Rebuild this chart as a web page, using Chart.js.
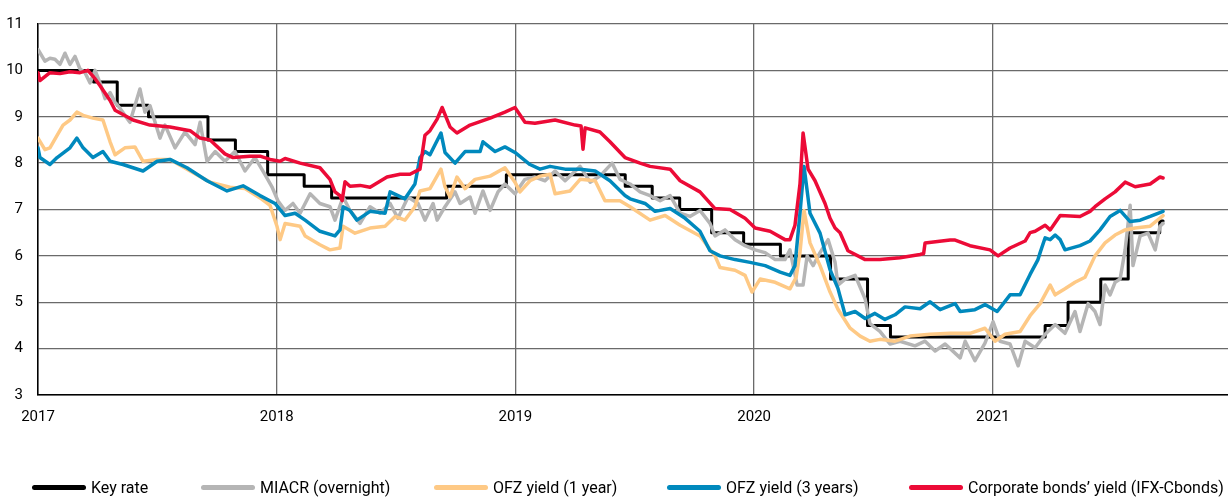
<!DOCTYPE html>
<html>
<head>
<meta charset="utf-8">
<script src="https://cdn.jsdelivr.net/npm/chart.js@4.4.1/dist/chart.umd.min.js"></script>
<style>
  html, body { margin: 0; padding: 0; background: #fff; }
  #wrap { position: relative; width: 1228px; height: 498px; }
  #legend { position: absolute; left: 0; top: 477px; width: 1228px; height: 20px; font: 16px Roboto, sans-serif; color: #000; }
  .item { position: absolute; top: 0; height: 20px; display: flex; align-items: center; white-space: nowrap; }
  .item .line { display: inline-block; width: 54px; height: 5px; border-radius: 3px; margin-right: 5px; }
</style>
</head>
<body>
<div id="wrap">
  <canvas id="ratesChart" width="1228" height="498"></canvas>
  <div id="legend"></div>
</div>
<script>
// osie
const xTicks = [2017, 2018, 2019, 2020, 2021];
const yTicks = [3, 4, 5, 6, 7, 8, 9, 10, 11];

// stopa kluczowa (daty jako ulamek roku)
const keyRateT = [2017.000, 2017.233, 2017.332, 2017.463, 2017.712, 2017.827, 2017.962, 2018.115, 2018.230,
    2018.712, 2018.962, 2019.460, 2019.573, 2019.688, 2019.822, 2019.956, 2020.110, 2020.320, 2020.475,
    2020.571, 2021.219, 2021.315, 2021.452, 2021.567, 2021.699, 2021.713];
const keyRateV = [10.00, 9.75, 9.25, 9.00, 8.50, 8.25, 7.75, 7.50, 7.25,
    7.50, 7.75, 7.50, 7.25, 7.00, 6.50, 6.25, 6.00, 5.50, 4.50,
    4.25, 4.50, 5.00, 5.50, 6.50, 6.75, 6.75];

// MIACR
const miacrT = [2017.000, 2017.029, 2017.050, 2017.071, 2017.092, 2017.113, 2017.134, 2017.155, 2017.176, 2017.197,
    2017.218, 2017.239, 2017.260, 2017.281, 2017.302, 2017.323, 2017.344, 2017.364, 2017.385, 2017.427,
    2017.448, 2017.469, 2017.511, 2017.532, 2017.574, 2017.616, 2017.658, 2017.679, 2017.708, 2017.742,
    2017.783, 2017.825, 2017.867, 2017.909, 2017.951, 2017.980, 2018.005, 2018.035, 2018.068, 2018.098,
    2018.140, 2018.181, 2018.223, 2018.244, 2018.278, 2018.307, 2018.349, 2018.391, 2018.433, 2018.475,
    2018.508, 2018.550, 2018.592, 2018.621, 2018.655, 2018.672, 2018.705, 2018.747, 2018.768, 2018.810,
    2018.831, 2018.864, 2018.894, 2018.927, 2018.956, 2018.998, 2019.040, 2019.082, 2019.124, 2019.166,
    2019.208, 2019.271, 2019.313, 2019.354, 2019.405, 2019.438, 2019.480, 2019.522, 2019.564, 2019.606,
    2019.648, 2019.690, 2019.731, 2019.773, 2019.815, 2019.836, 2019.878, 2019.920, 2019.962, 2020.004,
    2020.046, 2020.088, 2020.129, 2020.150, 2020.180, 2020.205, 2020.222, 2020.247, 2020.276, 2020.310,
    2020.339, 2020.351, 2020.381, 2020.423, 2020.465, 2020.485, 2020.527, 2020.569, 2020.611, 2020.674,
    2020.716, 2020.758, 2020.800, 2020.863, 2020.884, 2020.925, 2020.967, 2021.001, 2021.030, 2021.072,
    2021.106, 2021.135, 2021.177, 2021.219, 2021.261, 2021.302, 2021.344, 2021.365, 2021.399, 2021.428,
    2021.449, 2021.470, 2021.491, 2021.512, 2021.533, 2021.554, 2021.575, 2021.587, 2021.617, 2021.650,
    2021.680, 2021.700, 2021.713];
const miacrV = [10.45, 10.20, 10.26, 10.24, 10.13, 10.37, 10.13, 10.30, 10.03, 9.95,
    9.73, 10.00, 9.73, 9.39, 9.52, 9.31, 9.18, 9.03, 8.88, 9.60,
    9.10, 9.24, 8.54, 8.82, 8.33, 8.67, 8.40, 8.88, 8.04, 8.25,
    8.04, 8.25, 7.83, 8.12, 7.75, 7.49, 7.19, 6.98, 7.13, 6.92,
    7.34, 7.13, 7.06, 6.77, 7.27, 6.98, 6.70, 7.06, 6.92, 7.13,
    6.81, 7.27, 7.13, 6.77, 7.13, 6.77, 7.06, 7.38, 7.13, 7.27,
    6.92, 7.40, 6.98, 7.38, 7.55, 7.34, 7.65, 7.70, 7.62, 7.83,
    7.62, 7.93, 7.59, 7.72, 8.00, 7.65, 7.55, 7.38, 7.30, 7.19,
    7.30, 6.92, 6.85, 6.98, 6.70, 6.43, 6.56, 6.35, 6.22, 6.13,
    6.07, 5.92, 5.92, 6.13, 5.37, 5.37, 6.00, 5.79, 6.07, 6.35,
    5.86, 5.37, 5.50, 5.58, 5.07, 4.54, 4.37, 4.10, 4.16, 4.06,
    4.16, 3.95, 4.10, 3.80, 4.16, 3.74, 4.12, 4.58, 4.16, 4.10,
    3.63, 4.16, 4.02, 4.31, 4.52, 4.33, 4.80, 4.37, 4.97, 4.80,
    4.52, 5.37, 5.16, 5.43, 5.50, 6.13, 7.09, 5.79, 6.43, 6.49,
    6.13, 6.64, 6.70];

// OFZ 1 rok
const ofz1T = [2017.000, 2017.029, 2017.050, 2017.080, 2017.105, 2017.134, 2017.163, 2017.189, 2017.230, 2017.272,
    2017.302, 2017.323, 2017.364, 2017.406, 2017.440, 2017.499, 2017.553, 2017.637, 2017.721, 2017.804,
    2017.867, 2017.930, 2017.972, 2018.001, 2018.014, 2018.035, 2018.098, 2018.119, 2018.181, 2018.223,
    2018.265, 2018.278, 2018.328, 2018.391, 2018.454, 2018.496, 2018.537, 2018.579, 2018.600, 2018.642,
    2018.688, 2018.705, 2018.726, 2018.755, 2018.789, 2018.831, 2018.894, 2018.956, 2018.998, 2019.019,
    2019.061, 2019.103, 2019.145, 2019.166, 2019.229, 2019.271, 2019.334, 2019.375, 2019.438, 2019.480,
    2019.564, 2019.627, 2019.690, 2019.773, 2019.836, 2019.857, 2019.920, 2019.962, 2019.991, 2020.025,
    2020.088, 2020.150, 2020.176, 2020.192, 2020.209, 2020.234, 2020.276, 2020.318, 2020.351, 2020.402,
    2020.444, 2020.485, 2020.527, 2020.590, 2020.653, 2020.737, 2020.821, 2020.904, 2020.967, 2021.009,
    2021.051, 2021.114, 2021.156, 2021.198, 2021.240, 2021.261, 2021.302, 2021.344, 2021.386, 2021.428,
    2021.470, 2021.512, 2021.554, 2021.596, 2021.659, 2021.713];
const ofz1V = [8.54, 8.29, 8.33, 8.60, 8.82, 8.93, 9.10, 9.03, 8.97, 8.93,
    8.46, 8.18, 8.33, 8.35, 8.04, 8.08, 8.08, 7.83, 7.59, 7.48,
    7.45, 7.25, 7.09, 6.64, 6.35, 6.70, 6.64, 6.43, 6.24, 6.13,
    6.17, 6.64, 6.49, 6.60, 6.64, 6.85, 6.77, 7.06, 7.40, 7.45,
    7.87, 7.49, 7.27, 7.70, 7.45, 7.65, 7.72, 7.90, 7.59, 7.38,
    7.62, 7.72, 7.76, 7.34, 7.40, 7.65, 7.62, 7.19, 7.19, 7.06,
    6.77, 6.87, 6.66, 6.43, 6.00, 5.75, 5.69, 5.58, 5.22, 5.50,
    5.43, 5.29, 5.54, 6.07, 6.98, 6.28, 5.79, 5.22, 4.85, 4.44,
    4.27, 4.16, 4.20, 4.16, 4.27, 4.31, 4.33, 4.33, 4.44, 4.16,
    4.31, 4.37, 4.71, 4.97, 5.37, 5.16, 5.29, 5.43, 5.54, 6.00,
    6.28, 6.45, 6.56, 6.60, 6.64, 6.87];

// OFZ 3 lata
const ofz3T = [2017.000, 2017.008, 2017.050, 2017.080, 2017.134, 2017.163, 2017.189, 2017.230, 2017.272, 2017.302,
    2017.356, 2017.440, 2017.499, 2017.553, 2017.624, 2017.708, 2017.792, 2017.859, 2017.930, 2017.993,
    2018.035, 2018.077, 2018.119, 2018.181, 2018.244, 2018.265, 2018.278, 2018.307, 2018.336, 2018.391,
    2018.454, 2018.475, 2018.537, 2018.579, 2018.600, 2018.621, 2018.642, 2018.688, 2018.705, 2018.747,
    2018.789, 2018.852, 2018.864, 2018.915, 2018.956, 2018.998, 2019.061, 2019.103, 2019.145, 2019.208,
    2019.271, 2019.334, 2019.396, 2019.459, 2019.480, 2019.543, 2019.585, 2019.648, 2019.711, 2019.773,
    2019.815, 2019.857, 2019.920, 2019.983, 2020.046, 2020.109, 2020.150, 2020.171, 2020.192, 2020.209,
    2020.234, 2020.276, 2020.318, 2020.351, 2020.381, 2020.423, 2020.465, 2020.506, 2020.548, 2020.590,
    2020.632, 2020.695, 2020.737, 2020.779, 2020.842, 2020.863, 2020.925, 2020.967, 2021.018, 2021.072,
    2021.114, 2021.156, 2021.189, 2021.198, 2021.219, 2021.240, 2021.261, 2021.282, 2021.302, 2021.365,
    2021.407, 2021.449, 2021.491, 2021.533, 2021.575, 2021.617, 2021.659, 2021.713];
const ofz3V = [8.33, 8.12, 7.97, 8.12, 8.33, 8.54, 8.33, 8.12, 8.25, 8.04,
    7.97, 7.83, 8.04, 8.08, 7.90, 7.62, 7.40, 7.51, 7.30, 7.13,
    6.87, 6.92, 6.77, 6.53, 6.43, 6.56, 7.06, 6.98, 6.77, 6.96,
    6.92, 7.38, 7.23, 7.55, 8.12, 8.25, 8.18, 8.65, 8.23, 8.00,
    8.25, 8.25, 8.46, 8.25, 8.35, 8.23, 7.97, 7.87, 7.93, 7.87,
    7.87, 7.83, 7.62, 7.30, 7.23, 7.13, 6.96, 7.02, 6.81, 6.53,
    6.11, 6.00, 5.92, 5.86, 5.79, 5.65, 5.58, 5.79, 6.92, 7.93,
    6.92, 6.49, 5.70, 5.30, 4.73, 4.80, 4.65, 4.76, 4.63, 4.73,
    4.90, 4.86, 5.01, 4.84, 4.97, 4.80, 4.84, 4.95, 4.80, 5.16,
    5.16, 5.60, 5.92, 6.07, 6.39, 6.35, 6.45, 6.35, 6.13, 6.22,
    6.32, 6.56, 6.85, 6.98, 6.74, 6.77, 6.85, 6.96];

// obligacje korporacyjne
const corpT = [2017.000, 2017.008, 2017.050, 2017.092, 2017.134, 2017.176, 2017.209, 2017.239, 2017.260, 2017.302,
    2017.323, 2017.398, 2017.469, 2017.553, 2017.637, 2017.679, 2017.721, 2017.783, 2017.817, 2017.888,
    2017.930, 2017.972, 2018.014, 2018.035, 2018.098, 2018.181, 2018.223, 2018.244, 2018.265, 2018.274,
    2018.286, 2018.307, 2018.349, 2018.391, 2018.462, 2018.517, 2018.558, 2018.600, 2018.621, 2018.642,
    2018.672, 2018.693, 2018.726, 2018.755, 2018.810, 2018.894, 2018.956, 2018.998, 2019.040, 2019.082,
    2019.166, 2019.250, 2019.275, 2019.283, 2019.292, 2019.354, 2019.396, 2019.459, 2019.522, 2019.564,
    2019.648, 2019.690, 2019.773, 2019.836, 2019.899, 2019.962, 2020.004, 2020.067, 2020.129, 2020.150,
    2020.171, 2020.192, 2020.205, 2020.226, 2020.255, 2020.297, 2020.318, 2020.339, 2020.360, 2020.393,
    2020.465, 2020.527, 2020.611, 2020.695, 2020.710, 2020.716, 2020.821, 2020.842, 2020.904, 2020.988,
    2021.022, 2021.072, 2021.135, 2021.156, 2021.177, 2021.219, 2021.240, 2021.282, 2021.365, 2021.407,
    2021.428, 2021.470, 2021.512, 2021.554, 2021.596, 2021.659, 2021.700, 2021.713];
const corpV = [9.95, 9.78, 9.95, 9.93, 9.97, 9.95, 10.00, 9.82, 9.67, 9.35,
    9.14, 8.93, 8.82, 8.78, 8.70, 8.54, 8.50, 8.20, 8.12, 8.15,
    8.15, 8.08, 8.04, 8.10, 8.00, 7.90, 7.65, 7.38, 7.30, 7.19,
    7.60, 7.50, 7.52, 7.48, 7.70, 7.76, 7.76, 7.87, 8.60, 8.70,
    8.95, 9.20, 8.78, 8.65, 8.82, 8.97, 9.10, 9.20, 8.88, 8.86,
    8.93, 8.82, 8.80, 8.30, 8.76, 8.67, 8.46, 8.12, 8.00, 7.93,
    7.87, 7.62, 7.38, 7.02, 7.00, 6.81, 6.60, 6.53, 6.35, 6.35,
    6.66, 7.55, 8.65, 7.87, 7.62, 7.13, 6.81, 6.60, 6.50, 6.11,
    5.92, 5.92, 5.96, 6.03, 6.05, 6.28, 6.34, 6.34, 6.22, 6.13,
    6.00, 6.17, 6.32, 6.50, 6.53, 6.66, 6.56, 6.87, 6.85, 6.96,
    7.06, 7.23, 7.38, 7.59, 7.49, 7.55, 7.70, 7.68];

function toPoints(t, v) {
    return t.map((x, i) => ({ x: x, y: v[i] }));
}

const datasets = [
    { label: "Key rate", data: toPoints(keyRateT, keyRateV), borderColor: "#000000", borderWidth: 3, stepped: true, order: 5 },
    { label: "MIACR (overnight)", data: toPoints(miacrT, miacrV), borderColor: "#b5b5b5", borderWidth: 3.5, order: 4 },
    { label: "OFZ yield (1 year)", data: toPoints(ofz1T, ofz1V), borderColor: "#fec985", borderWidth: 3.5, order: 3 },
    { label: "OFZ yield (3 years)", data: toPoints(ofz3T, ofz3V), borderColor: "#0089bd", borderWidth: 3.5, order: 2 },
    { label: "Corporate bonds\u2019 yield (IFX-Cbonds)", data: toPoints(corpT, corpV), borderColor: "#ec0b37", borderWidth: 3.5, order: 1 }
];

const tickFont = { family: "Roboto", size: 15 };

const ctx = document.getElementById("ratesChart").getContext("2d");
window.ratesChartInstance = new Chart(ctx, {
    type: "line",
    data: { datasets: datasets },
    options: {
        responsive: false,
        animation: false,
        devicePixelRatio: 1,
        layout: { padding: { top: 17, right: 0, bottom: 0, left: 0 } },
        plugins: { legend: { display: false }, tooltip: { enabled: false } },
        elements: {
            point: { radius: 0 },
            line: { tension: 0, fill: false, borderJoinStyle: "round", borderCapStyle: "round" }
        },
        scales: {
            x: {
                type: "linear",
                min: 2017,
                max: 2021.985,
                afterBuildTicks: s => { s.ticks = xTicks.map(v => ({ value: v })); },
                afterFit: s => { s.height = 103; },
                grid: { color: "#6a6a6a", lineWidth: 1.3, drawTicks: false },
                border: { color: "#000", width: 1.5 },
                ticks: { padding: 13, color: "#000", font: tickFont, maxRotation: 0, autoSkip: false, callback: v => String(v) }
            },
            y: {
                min: 3,
                max: 11,
                afterBuildTicks: s => { s.ticks = yTicks.map(v => ({ value: v })); },
                afterFit: s => { s.width = 38; },
                grid: { color: "#6a6a6a", lineWidth: 1.3, drawTicks: false },
                border: { color: "#000", width: 1.5 },
                ticks: { padding: 15, color: "#000", font: tickFont, callback: v => String(v) }
            }
        }
    }
});

// legenda w HTML (nierowne odstepy jak w oryginale)
const legendLeft = [32, 201, 434, 667, 909];
const legend = document.getElementById("legend");
datasets.forEach((ds, i) => {
    const item = document.createElement("div");
    item.className = "item";
    item.style.left = legendLeft[i] + "px";
    item.innerHTML = '<span class="line" style="background:' + ds.borderColor + '"></span>' + ds.label;
    legend.appendChild(item);
});
</script>
</body>
</html>
